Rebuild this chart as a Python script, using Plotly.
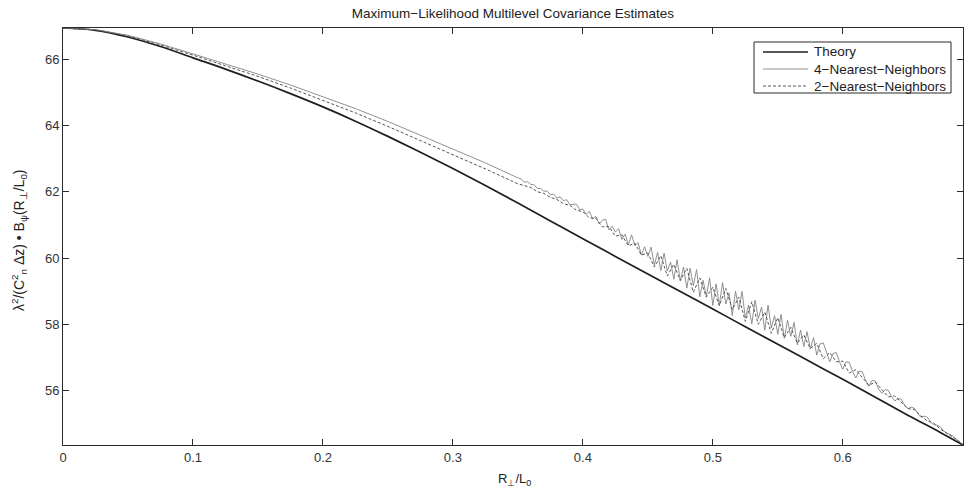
import plotly.graph_objects as go

# ---------------- data ----------------
x_theory = [0.000, 0.025, 0.050, 0.075, 0.100, 0.125, 0.150, 0.175, 0.200, 0.225,
            0.250, 0.275, 0.300, 0.325, 0.350, 0.375, 0.400, 0.425, 0.450, 0.475,
            0.500, 0.525, 0.550, 0.575, 0.600, 0.625, 0.650, 0.675, 0.6925]
y_theory = [66.94, 66.87, 66.67, 66.38, 66.04, 65.70, 65.34, 64.96, 64.56, 64.13,
            63.67, 63.19, 62.70, 62.19, 61.66, 61.12, 60.58, 60.05, 59.52, 58.99,
            58.46, 57.93, 57.40, 56.87, 56.34, 55.80, 55.26, 54.74, 54.36]

# sample positions of the estimates
x_nn4 = [round(0.025 * i, 4) for i in range(15)] + [round(0.35 + 0.0025 * k, 4) for k in range(1, 138)]
y_nn4 = [66.94, 66.89, 66.72, 66.46, 66.16, 65.86, 65.55, 65.22, 64.87, 64.51,
         64.12, 63.71, 63.30, 62.87, 62.42,
         62.39, 62.29, 62.30, 62.22, 62.21, 62.10, 62.10, 62.02, 62.02, 61.91,
         61.93, 61.81, 61.85, 61.73, 61.76, 61.61, 61.63, 61.63, 61.46, 61.48,
         61.32, 61.41, 61.18, 61.26, 61.03, 61.14, 61.17, 60.85, 60.96, 60.78,
         60.89, 60.56, 60.72, 60.40, 60.70, 60.37, 60.47, 60.09, 60.34, 60.05,
         60.33, 59.78, 60.17, 59.62, 60.15, 59.61, 59.88, 59.36, 59.95, 59.32,
         59.73, 59.09, 59.69, 59.17, 59.65, 58.83, 59.33, 58.85, 59.40, 58.57,
         59.22, 58.58, 59.26, 58.61, 58.95, 58.27, 59.00, 58.44, 58.99, 58.19,
         58.58, 58.01, 58.73, 58.17, 58.52, 57.82, 58.58, 57.89, 58.26, 57.70,
         58.30, 57.58, 58.12, 57.64, 58.06, 57.38, 57.83, 57.33, 57.78, 57.27,
         57.60, 57.07,
         57.41, 57.44, 57.16, 56.87, 57.12, 57.15, 56.87, 56.64, 56.87, 56.85,
         56.58, 56.38, 56.59, 56.57, 56.32, 56.13, 56.31, 56.29, 56.05, 55.92,
         56.03, 56.01, 55.82, 55.69, 55.76, 55.74, 55.57, 55.46, 55.50, 55.47,
         55.32, 55.20,
         55.23, 55.20, 55.06, 54.97, 54.96, 54.91, 54.79, 54.72, 54.68, 54.62,
         54.53, 54.45, 54.37]

x_nn2 = [round(0.025 * i, 4) for i in range(15)] + [round(0.35 + 0.005 * j, 4) for j in range(1, 69)] + [0.6925]
y_nn2 = [66.94, 66.88, 66.70, 66.43, 66.12, 65.81, 65.48, 65.13, 64.76, 64.38,
         63.97, 63.55, 63.13, 62.69, 62.24,
         62.19, 62.13, 62.00, 61.95, 61.83, 61.77, 61.64, 61.59, 61.44, 61.40,
         61.21, 61.20, 60.94, 60.95, 60.66, 60.70, 60.37, 60.45, 60.09, 60.15,
         59.73, 60.07, 59.46, 59.81, 59.32, 59.69, 58.97, 59.40, 58.82, 59.12,
         58.56, 59.08, 58.45, 58.82, 58.09, 58.68, 58.00, 58.37, 57.73, 58.20,
         57.60, 57.91, 57.43, 57.68, 57.27, 57.43, 56.96, 57.15, 56.87, 56.89,
         56.53, 56.63, 56.40, 56.16, 56.26, 56.02, 55.81, 55.84, 55.64, 55.46,
         55.43, 55.24, 55.09, 55.02, 54.84, 54.72, 54.59, 54.46, 54.36]

series_names = ["Theory", "4\u2212Nearest\u2212Neighbors", "2\u2212Nearest\u2212Neighbors"]

x_ticks = [0, 0.1, 0.2, 0.3, 0.4, 0.5, 0.6]
x_tick_labels = ["0", "0.1", "0.2", "0.3", "0.4", "0.5", "0.6"]
y_ticks = [56, 58, 60, 62, 64, 66]
y_tick_labels = ["56", "58", "60", "62", "64", "66"]

# ---------------- figure ----------------
FONT = "Liberation Sans, Arial, sans-serif"
W, H = 964, 495
L, R, T, B = 63, 1, 28, 50
PW, PH = W - L - R, H - T - B


def px_x(px):
    return (px - L) / PW


def px_y(py):
    return (H - B - py) / PH


styles = [
    dict(color="#1e1e1e", width=1.7),
    dict(color="#858585", width=0.9),
    dict(color="#555555", width=1, dash="3px,2px"),
]

fig = go.Figure()
fig.add_trace(go.Scatter(x=x_theory, y=y_theory, mode="lines", name=series_names[0],
                         line=styles[0], line_shape="spline", showlegend=False))
fig.add_trace(go.Scatter(x=x_nn4, y=y_nn4, mode="lines", name=series_names[1],
                         line=styles[1], showlegend=False))
fig.add_trace(go.Scatter(x=x_nn2, y=y_nn2, mode="lines", name=series_names[2],
                         line=styles[2], showlegend=False))

axis_common = dict(
    showgrid=False, zeroline=False, showline=True, linecolor="#2a2a2a", linewidth=1,
    mirror="ticks", ticks="inside", ticklen=6, tickcolor="#2a2a2a", tickwidth=1,
    tickfont=dict(family=FONT, size=13, color="#333333"),
)

fig.update_layout(
    width=W, height=H,
    margin=dict(l=L, r=R, t=T, b=B),
    paper_bgcolor="white", plot_bgcolor="white",
    font=dict(family=FONT, size=12, color="#222222"),
    title=dict(text="Maximum\u2212Likelihood Multilevel Covariance Estimates",
               x=0.5, xref="paper", xanchor="center",
               y=1 - 13 / H, yref="container", yanchor="middle",
               font=dict(family=FONT, size=13.5, color="#222222")),
    xaxis=dict(range=[0, 0.6925], tickvals=x_ticks, ticktext=x_tick_labels, **axis_common),
    yaxis=dict(range=[54.36, 66.94], tickvals=y_ticks, ticktext=y_tick_labels, **axis_common),
    showlegend=False,
)

# legend box drawn by hand to match the compact original
fig.add_shape(type="rect", xref="paper", yref="paper",
              x0=px_x(754), x1=px_x(951), y0=px_y(93), y1=px_y(42),
              line=dict(color="#2a2a2a", width=1), fillcolor="white", layer="above")
for i, name in enumerate(series_names):
    yy = px_y(52 + 17 * i)
    st = dict(styles[i])
    fig.add_shape(type="line", xref="paper", yref="paper",
                  x0=px_x(763), x1=px_x(808), y0=yy, y1=yy, line=st, layer="above")
    fig.add_annotation(text=name, xref="paper", yref="paper", x=px_x(812), y=yy,
                       xanchor="left", yanchor="middle", showarrow=False,
                       font=dict(family=FONT, size=13.5, color="#222222"))

fig.add_annotation(
    text="λ<sup>2</sup>/(C<sup>2</sup><sub>n</sub> Δz) • B<sub>ψ</sub>(R<sub>⊥</sub>/L<sub>0</sub>)",
    xref="paper", yref="paper", x=px_x(19), y=px_y(240),
    textangle=-90, showarrow=False, xanchor="center", yanchor="middle",
    font=dict(family=FONT, size=14, color="#222222"),
)
fig.add_annotation(
    text="R<sub>⊥</sub>/L<sub>0</sub>",
    xref="paper", yref="paper", x=px_x(514), y=px_y(480),
    showarrow=False, xanchor="center", yanchor="middle",
    font=dict(family=FONT, size=13, color="#222222"),
)

fig.write_html("out.html")
